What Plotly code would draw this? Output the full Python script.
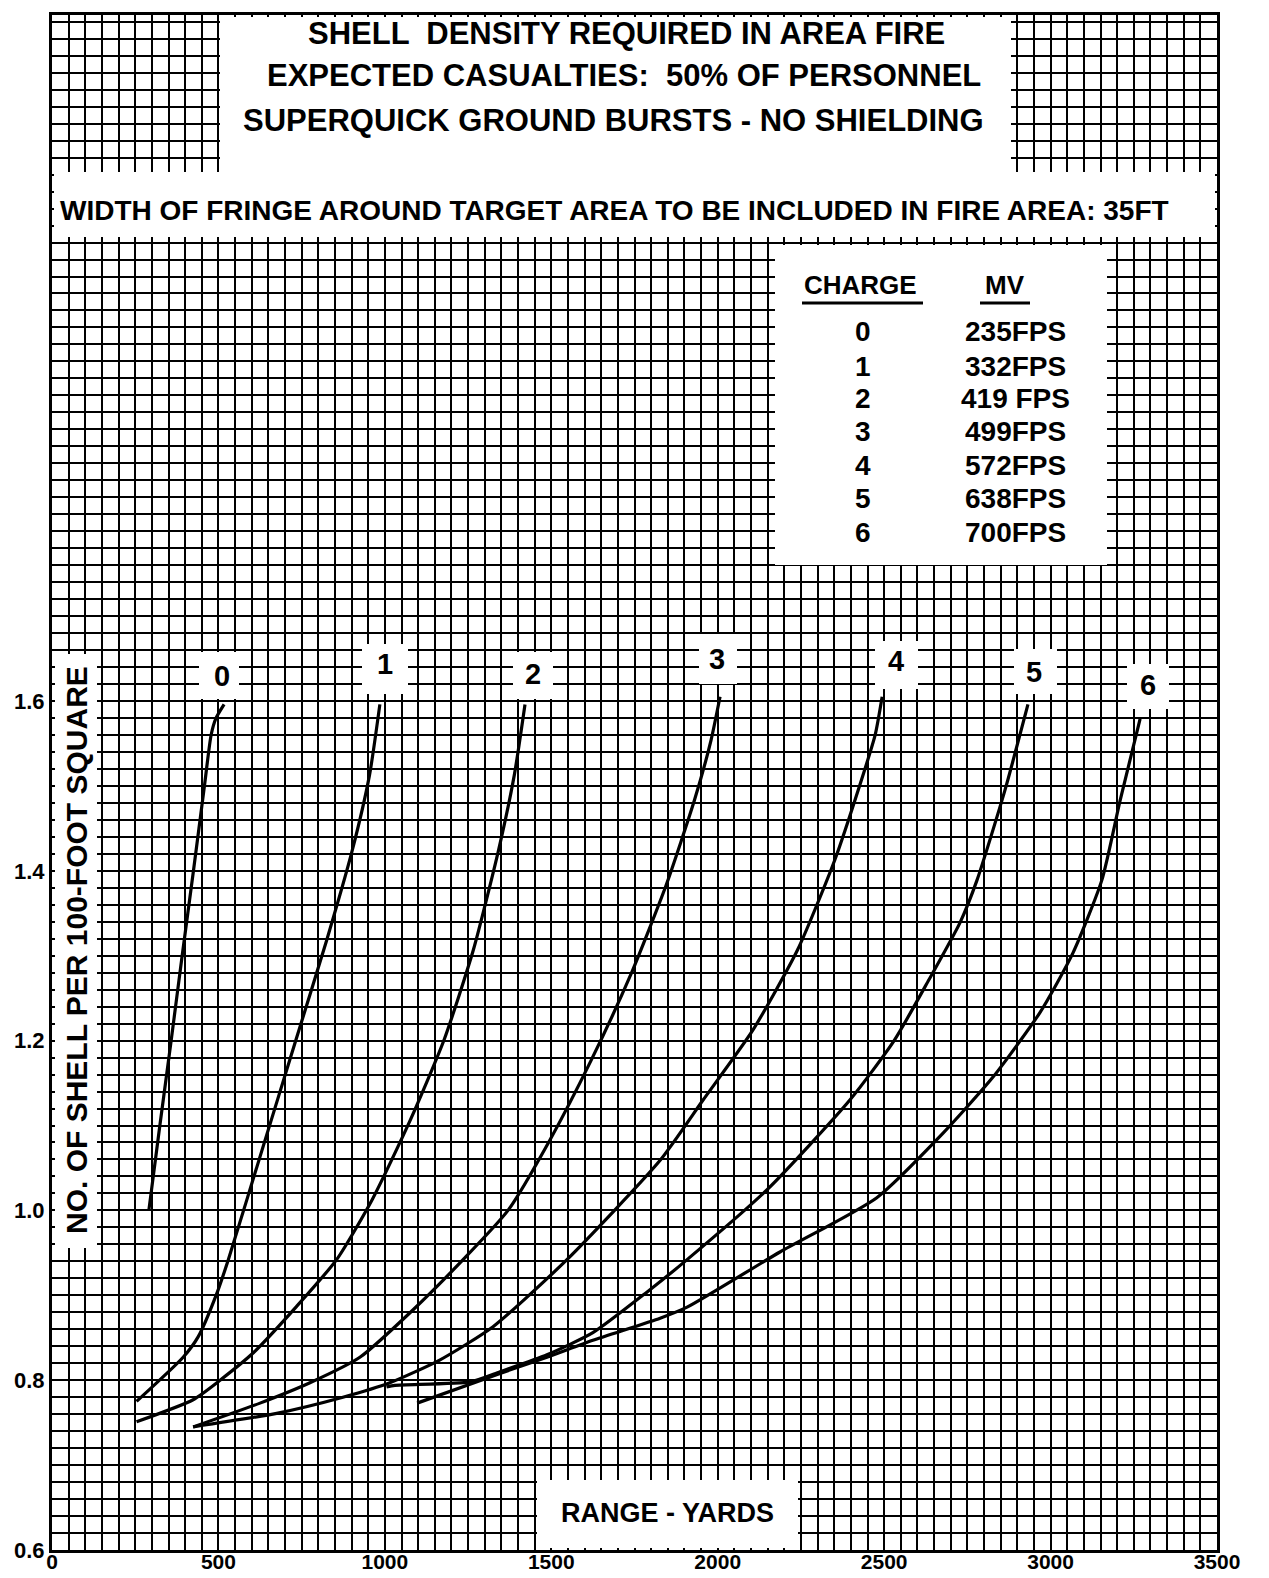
import plotly.graph_objects as go

# ---------------- data ----------------
charges = ["0", "1", "2", "3", "4", "5", "6"]
muzzle_velocity = ["235FPS", "332FPS", "419 FPS", "499FPS", "572FPS", "638FPS", "700FPS"]

c0_x = [291, 324, 358, 391, 425, 458, 478, 493, 517]
c0_y = [1.00, 1.10, 1.20, 1.30, 1.40, 1.50, 1.56, 1.58, 1.596]

c1_x = [254, 394, 439, 495, 529, 631, 733, 825, 902, 954, 985]
c1_y = [0.775, 0.827, 0.851, 0.902, 0.941, 1.071, 1.201, 1.318, 1.424, 1.513, 1.596]

c2_x = [254, 424, 505, 604, 735, 855, 961, 1076, 1178, 1266, 1342, 1389, 1421]
c2_y = [0.751, 0.777, 0.800, 0.832, 0.887, 0.942, 1.012, 1.106, 1.201, 1.307, 1.425, 1.513, 1.596]

c3_x = [424, 625, 775, 925, 1085, 1235, 1370, 1496, 1620, 1738, 1845, 1930, 1980, 2007]
c3_y = [0.745, 0.773, 0.797, 0.827, 0.883, 0.942, 1.000, 1.083, 1.177, 1.277, 1.383, 1.483, 1.554, 1.605]

c4_x = [424, 675, 874, 1015, 1166, 1325, 1547, 1827, 1956, 2105, 2240, 2352, 2427, 2473, 2494]
c4_y = [0.745, 0.761, 0.780, 0.797, 0.824, 0.863, 0.942, 1.059, 1.130, 1.212, 1.307, 1.413, 1.501, 1.560, 1.605]

c5_x = [1005, 1030, 1256, 1346, 1487, 1625, 1788, 1908, 2150, 2397, 2530, 2635, 2728, 2779, 2863, 2932]
c5_y = [0.792, 0.794, 0.798, 0.810, 0.830, 0.856, 0.904, 0.942, 1.025, 1.130, 1.200, 1.272, 1.339, 1.389, 1.495, 1.596]

c6_x = [1097, 1346, 1487, 1625, 1827, 1908, 2187, 2478, 2677, 2827, 2968, 3067, 3154, 3209, 3269]
c6_y = [0.773, 0.808, 0.827, 0.847, 0.873, 0.886, 0.951, 1.015, 1.091, 1.157, 1.233, 1.303, 1.389, 1.483, 1.579]

curves_x = [c0_x, c1_x, c2_x, c3_x, c4_x, c5_x, c6_x]
curves_y = [c0_y, c1_y, c2_y, c3_y, c4_y, c5_y, c6_y]

x_tick_vals = [0, 500, 1000, 1500, 2000, 2500, 3000, 3500]
x_tick_text = ["0", "500", "1000", "1500", "2000", "2500", "3000", "3500"]
y_tick_vals = [0.6, 0.8, 1.0, 1.2, 1.4, 1.6]
y_tick_text = ["0.6", "0.8", "1.0", "1.2", "1.4", "1.6"]

title_lines = ["SHELL  DENSITY REQUIRED IN AREA FIRE",
               "EXPECTED CASUALTIES:  50% OF PERSONNEL",
               "SUPERQUICK GROUND BURSTS - NO SHIELDING"]
fringe_text = "WIDTH OF FRINGE AROUND TARGET AREA TO BE INCLUDED IN FIRE AREA: 35FT"
x_title = "RANGE - YARDS"
y_title = "NO. OF SHELL PER 100-FOOT SQUARE"

# ---------------- layout geometry ----------------
# page body has an 8 px margin, so the figure starts at (8, 8) on screen
OFF = 8
W, H = 1269 - OFF, 1578 - OFF
PX0, PX1, PY0, PY1 = 52, 1217, 15, 1550          # plot area on screen
L, T = PX0 - OFF, PY0 - OFF
PW, PH = PX1 - PX0, PY1 - PY0
R, B = W - L - PW, H - T - PH
X_MIN, X_MAX = 0, 3500
Y_MIN, Y_MAX = 0.6, 0.6 + PH / 849.0
FONT = "Liberation Sans, Arial, sans-serif"
GRID_W = 2.4


def fx(px):
    return (px - PX0) / PW


def fy(py):
    return (PY1 - py) / PH


def dx(px):
    return X_MIN + fx(px) * (X_MAX - X_MIN)


def dy(py):
    return Y_MIN + fy(py) * (Y_MAX - Y_MIN)


fig = go.Figure()
for i, (xs, ys) in enumerate(zip(curves_x, curves_y)):
    fig.add_trace(go.Scatter(x=xs, y=ys, mode="lines", name="Charge " + charges[i],
                             line=dict(color="black", width=3.2, shape="spline", smoothing=0.6),
                             showlegend=False, hoverinfo="skip"))

shapes = []
annotations = []


def white_box(x0, y0, x1, y1):
    shapes.append(dict(type="rect", xref="x", yref="y",
                       x0=dx(x0), x1=dx(x1), y0=dy(y1), y1=dy(y0),
                       fillcolor="white", line=dict(width=0), layer="above"))


def text(s, x, y, size, xanchor="center", angle=0):
    annotations.append(dict(text=s, xref="paper", yref="paper", x=fx(x), y=fy(y),
                            xanchor=xanchor, yanchor="middle", showarrow=False, textangle=angle,
                            font=dict(family=FONT, size=size, color="black", weight="bold")))


# title block and fringe band
white_box(220, 17, 1011, 172)
white_box(PX0 + 2, 172, PX1 - 2, 237)
# legend box
white_box(775, 245, 1107, 565)
# axis title boxes
white_box(55, 654, 97, 1248)
white_box(537, 1480, 798, 1548)
# curve label boxes
label_boxes = [(199, 652, 239, 699), (362, 644, 408, 694), (513, 652, 553, 699),
               (699, 634, 737, 684), (875, 641, 918, 689), (1014, 649, 1057, 694),
               (1127, 664, 1169, 709)]
label_pos = [(222, 676), (385, 664), (533, 674), (717, 659), (896, 661), (1034, 672), (1148, 685)]
for bx in label_boxes:
    white_box(*bx)
for ch, (lx, ly) in zip(charges, label_pos):
    text(ch, lx, ly, 29)

# titles
for s, (tx, ty) in zip(title_lines, [(626, 33), (624, 76), (613, 121)]):
    text(s, tx, ty, 31)
text(fringe_text, 614, 211, 28)

# legend
text("CHARGE", 860, 285, 26)
text("MV", 1005, 285, 26)
shapes.append(dict(type="line", xref="paper", yref="paper", x0=fx(802), x1=fx(923),
                   y0=fy(303), y1=fy(303), line=dict(color="black", width=3)))
shapes.append(dict(type="line", xref="paper", yref="paper", x0=fx(980), x1=fx(1030),
                   y0=fy(303), y1=fy(303), line=dict(color="black", width=3)))
row_y = [332, 366, 399, 431, 465, 498, 532]
for ch, mv, ry in zip(charges, muzzle_velocity, row_y):
    text(ch, 863, ry, 28)
    text(mv, 1015, ry, 28)

# axis titles
text(x_title, 667, 1513, 27)
text(y_title, 76, 950, 30, angle=-90)

fig.update_layout(
    width=W, height=H,
    margin=dict(l=L, r=R, t=T, b=B, pad=0, autoexpand=False),
    paper_bgcolor="white", plot_bgcolor="white",
    shapes=shapes, annotations=annotations,
    showlegend=False,
    xaxis=dict(range=[X_MIN, X_MAX], tickmode="array", tickvals=x_tick_vals, ticktext=x_tick_text,
               showgrid=True, gridcolor="black", gridwidth=GRID_W, zeroline=False, automargin=False,
               showline=True, linecolor="black", linewidth=3, mirror=True, ticks="",
               ticklabelstandoff=-9,
               tickfont=dict(family=FONT, size=21, color="black", weight="bold"),
               minor=dict(tickmode="linear", tick0=0, dtick=50, showgrid=True,
                          gridcolor="black", gridwidth=GRID_W)),
    yaxis=dict(range=[Y_MIN, Y_MAX], tickmode="array", tickvals=y_tick_vals, ticktext=y_tick_text,
               showgrid=True, gridcolor="black", gridwidth=GRID_W, zeroline=False, automargin=False,
               showline=True, linecolor="black", linewidth=3, mirror=True, ticks="",
               tickfont=dict(family=FONT, size=22, color="black", weight="bold"),
               minor=dict(tickmode="linear", tick0=0.6, dtick=0.02, showgrid=True,
                          gridcolor="black", gridwidth=GRID_W)),
)

fig.write_html("out.html")
